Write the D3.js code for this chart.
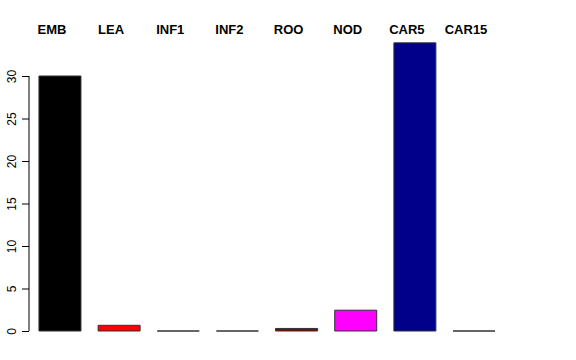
<!DOCTYPE html>
<html>
<head>
<meta charset="utf-8">
<script src="https://cdn.jsdelivr.net/npm/d3@7"></script>
<style>
  body { margin: 0; background: #fff; }
  text { font-family: "Liberation Sans", Arial, sans-serif; }
</style>
</head>
<body>
<svg width="576" height="360"></svg>
<script>
// tissue labels, values and bar fills
var categories = ["EMB", "LEA", "INF1", "INF2", "ROO", "NOD", "CAR5", "CAR15"];
var values = [30, 0.67, 0, 0, 0.3, 2.45, 33.9, 0];
var colors = ["#000000", "#ff0000", "#00cd00", "#0000ff", "#8b0000", "#ff00ff", "#00008b", "#bebebe"];
var yTicks = [0, 5, 10, 15, 20, 25, 30];

var svg = d3.select("svg");

var x = d3.scaleBand()
  .domain(categories)
  .range([29.5, 504.5])
  .paddingInner(0.29)
  .paddingOuter(0.16);

var y = d3.scaleLinear()
  .domain([0, 30])
  .range([331, 76]);

// bars as closed paths so zero bars still show their border
svg.selectAll("path.bar")
  .data(values)
  .enter()
  .append("path")
  .attr("class", "bar")
  .attr("d", function(d, i) {
    var x0 = x(categories[i]), w = x.bandwidth();
    return "M" + x0 + "," + y(0) + "H" + (x0 + w) + "V" + y(d) + "H" + x0 + "Z";
  })
  .attr("fill", function(d, i) { return colors[i]; })
  .attr("stroke", "#333")
  .attr("stroke-width", 1);

// labels on top
svg.selectAll("text.cat")
  .data(categories)
  .enter()
  .append("text")
  .attr("class", "cat")
  .attr("x", function(d) { return x(d) + x.bandwidth() / 2 - 8; })
  .attr("y", 34)
  .attr("text-anchor", "middle")
  .attr("font-size", 13)
  .attr("font-weight", "bold")
  .text(function(d) { return d; });

// y axis, R style with rotated labels
var axis = svg.append("g")
  .attr("transform", "translate(29,0)")
  .call(d3.axisLeft(y).tickValues(yTicks).tickSize(7).tickPadding(6));

axis.select(".domain").attr("d", "M0," + y(0) + "V" + y(30)).attr("stroke", "#000");
axis.selectAll(".tick line").attr("stroke", "#000");
axis.selectAll(".tick text")
  .attr("font-family", "Liberation Sans, Arial, sans-serif")
  .attr("font-size", 12)
  .attr("fill", "#000")
  .attr("text-anchor", "middle")
  .attr("dy", 0)
  .attr("x", 0)
  .attr("transform", "translate(-13,0) rotate(-90)");
</script>
</body>
</html>
